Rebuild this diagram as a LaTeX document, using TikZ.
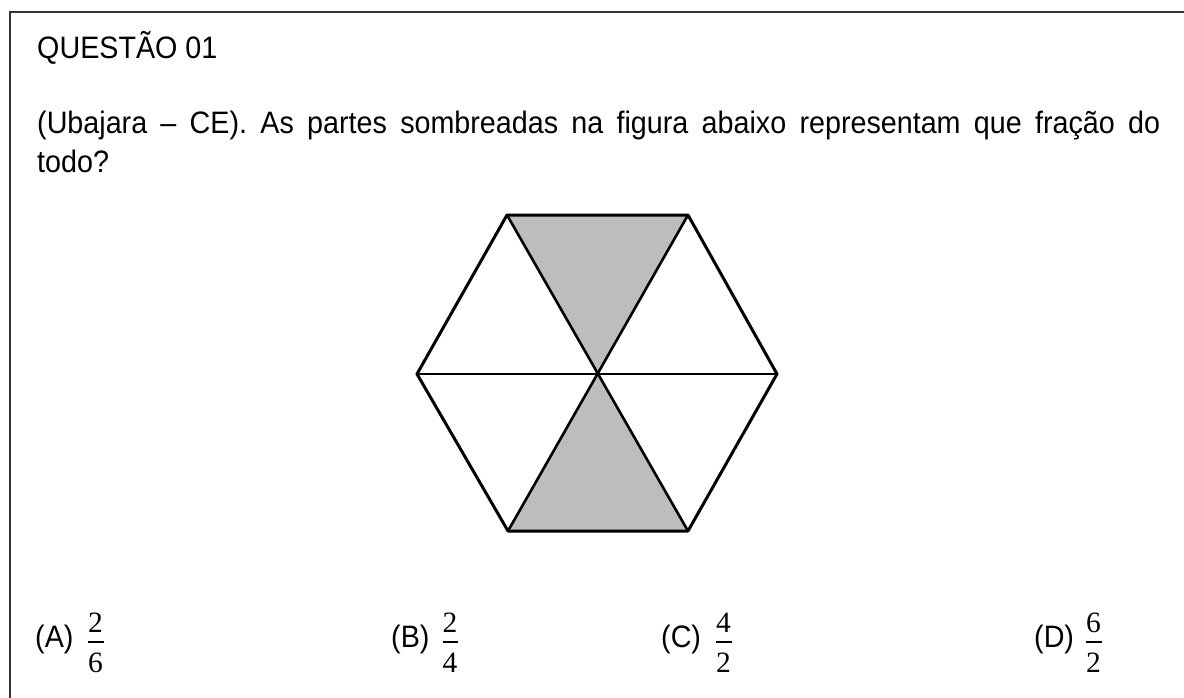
\documentclass[tikz,border=0pt]{standalone}
\usepackage{fontspec}
\setmainfont{Liberation Sans}
\newfontfamily\serifdig{Liberation Serif}
\newcommand{\tx}[1]{\scalebox{1}[1.08]{#1}}
\begin{document}
\begin{tikzpicture}[x=1pt,y=-1pt,
  txt/.style={inner sep=0pt,font=\fontsize{28.7}{34}\selectfont},
  dig/.style={inner sep=0pt,font=\fontsize{29.5}{34}\serifdig},
  bar/.style={line width=1.8pt},
  edge/.style={line width=3pt,line join=round,line cap=round},
  shade/.style={fill=black!26}]
\useasboundingbox (0,0) rectangle (1184,698);
\fill[white] (0,0) rectangle (1184,698);
% frame
\draw[line width=2pt,black!80] (1184,12) -- (9.5,12) -- (9.5,698);
% texts
\node[txt,anchor=base west] (title) at (37,59) {\tx{QUESTÃO 01}};
\node[txt,anchor=base west] (line1) at (37,134) {\tx{\makebox[1123pt][s]{(Ubajara – CE). As partes sombreadas na figura abaixo representam que fração do}}};
\node[txt,anchor=base west] (line2) at (37,173) {\tx{todo?}};
% hexagon
\coordinate (TL) at (507,215);
\coordinate (TR) at (688,215);
\coordinate (L) at (417,374);
\coordinate (R) at (777,374);
\coordinate (BL) at (508,531);
\coordinate (BR) at (688,531);
\coordinate (O) at (597,374);
\fill[shade] (TL) -- (TR) -- (O) -- cycle;
\fill[shade] (BL) -- (BR) -- (O) -- cycle;
\draw[edge] (TL) -- (TR) -- (R) -- (BR) -- (BL) -- (L) -- cycle;
\draw[line width=2.6pt] (TL) -- (BR);
\draw[line width=2.6pt] (TR) -- (BL);
\draw[line width=2pt] (L) -- (R);
% answers
\node[txt,anchor=base west] (optA) at (35,647) {\tx{(A)}};
\node[dig,anchor=base] (numA) at (95.5,632) {2};
\node[dig,anchor=base] (denA) at (95.5,672) {6};
\draw[bar] (88,642) -- (103.5,642);
\node[txt,anchor=base west] (optB) at (391,647) {\tx{(B)}};
\node[dig,anchor=base] (numB) at (450,632) {2};
\node[dig,anchor=base] (denB) at (450,672) {4};
\draw[bar] (442.5,642) -- (458,642);
\node[txt,anchor=base west] (optC) at (661,647) {\tx{(C)}};
\node[dig,anchor=base] (numC) at (723.5,632) {4};
\node[dig,anchor=base] (denC) at (723.5,672) {2};
\draw[bar] (716,642) -- (731.5,642);
\node[txt,anchor=base west] (optD) at (1034,647) {\tx{(D)}};
\node[dig,anchor=base] (numD) at (1093.5,632) {6};
\node[dig,anchor=base] (denD) at (1093.5,672) {2};
\draw[bar] (1086,642) -- (1101.5,642);
\end{tikzpicture}
\end{document}
